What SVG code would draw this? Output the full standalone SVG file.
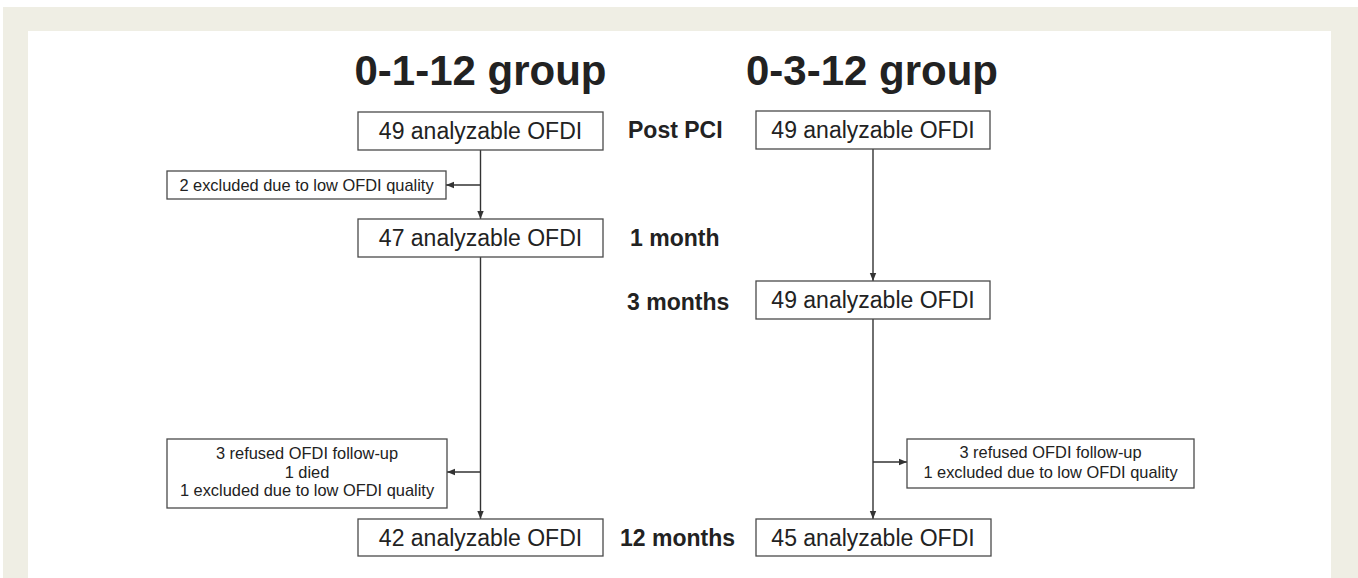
<svg xmlns="http://www.w3.org/2000/svg" width="1358" height="578" viewBox="0 0 1358 578">
<style>
.box{fill:#fff;stroke:#4a4a4a;stroke-width:1.3}
.t{font-family:"Liberation Sans",Arial,sans-serif;fill:#222}
.big{font-size:23px;text-anchor:middle}
.sm{font-size:16.4px;text-anchor:middle}
.lab{font-size:23px;font-weight:bold}
.title{font-size:42px;font-weight:bold;text-anchor:middle}
.ln{fill:none;stroke:#333;stroke-width:1.4}
</style>
<defs>
<marker id="ah" markerUnits="userSpaceOnUse" markerWidth="8" markerHeight="8" viewBox="0 0 8 8" refX="8" refY="4" orient="auto">
<path d="M0,0.8 L8,4 L0,7.2 Z" fill="#333"/>
</marker>
</defs>
<rect x="0" y="0" width="1358" height="578" fill="#fff"/>
<rect x="3" y="7" width="1355" height="571" fill="#efeee4"/>
<rect x="28" y="31" width="1303" height="547" fill="#fff"/>

<g id="titles">
<text class="t title" x="480.5" y="85">0-1-12 group</text>
<text class="t title" x="872" y="85">0-3-12 group</text>
</g>

<g id="labels">
<text class="t lab" x="628" y="138">Post PCI</text>
<text class="t lab" x="630" y="246">1 month</text>
<text class="t lab" x="627" y="310">3 months</text>
<text class="t lab" x="620" y="546">12 months</text>
</g>

<g id="connectors">
<line class="ln" x1="480.5" y1="150" x2="480.5" y2="219" marker-end="url(#ah)"/>
<line class="ln" x1="480.5" y1="185" x2="446" y2="185" marker-end="url(#ah)"/>
<line class="ln" x1="480.5" y1="257" x2="480.5" y2="519" marker-end="url(#ah)"/>
<line class="ln" x1="480.5" y1="472" x2="447" y2="472" marker-end="url(#ah)"/>
<line class="ln" x1="873" y1="149" x2="873" y2="281" marker-end="url(#ah)"/>
<line class="ln" x1="873" y1="319" x2="873" y2="519" marker-end="url(#ah)"/>
<line class="ln" x1="873" y1="462" x2="907" y2="462" marker-end="url(#ah)"/>
</g>

<g id="L1"><rect class="box" x="358" y="112" width="245" height="38"/><text class="t big" x="480.5" y="139">49 analyzable OFDI</text></g>
<g id="S1"><rect class="box" x="167" y="171" width="279" height="28"/><text class="t sm" x="306.5" y="191">2 excluded due to low OFDI quality</text></g>
<g id="L2"><rect class="box" x="358" y="219" width="245" height="38"/><text class="t big" x="480.5" y="246">47 analyzable OFDI</text></g>
<g id="S2"><rect class="box" x="167" y="439" width="280" height="69"/>
<text class="t sm" x="307" y="459">3 refused OFDI follow-up</text>
<text class="t sm" x="307" y="477.5">1 died</text>
<text class="t sm" x="307" y="496">1 excluded due to low OFDI quality</text></g>
<g id="L3"><rect class="box" x="358" y="519" width="245" height="37"/><text class="t big" x="480.5" y="546">42 analyzable OFDI</text></g>

<g id="R1"><rect class="box" x="756" y="111" width="234" height="38"/><text class="t big" x="873" y="138">49 analyzable OFDI</text></g>
<g id="R2"><rect class="box" x="756" y="281" width="234" height="38"/><text class="t big" x="873" y="308">49 analyzable OFDI</text></g>
<g id="S3"><rect class="box" x="907" y="439" width="287" height="49"/>
<text class="t sm" x="1050.5" y="458">3 refused OFDI follow-up</text>
<text class="t sm" x="1050.5" y="478">1 excluded due to low OFDI quality</text></g>
<g id="R3"><rect class="box" x="756" y="519" width="235" height="37"/><text class="t big" x="873" y="546">45 analyzable OFDI</text></g>
</svg>
